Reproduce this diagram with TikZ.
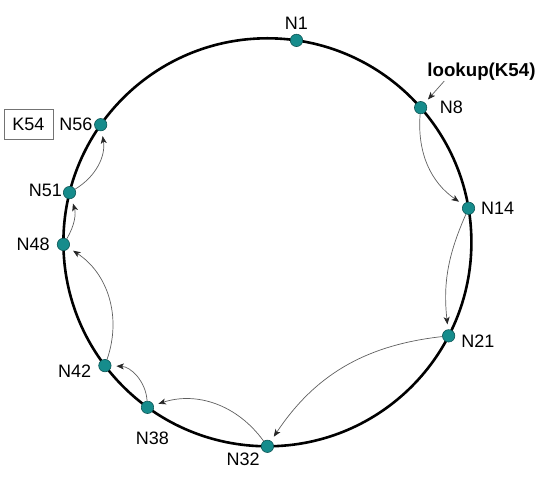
\documentclass[tikz,border=0pt]{standalone}
\usepackage{fontspec}
\setmainfont{Liberation Sans}
\usetikzlibrary{arrows.meta, calc, positioning}
\definecolor{peerfill}{RGB}{22,140,140}
\definecolor{peerline}{RGB}{12,85,85}
\definecolor{hopline}{RGB}{95,95,95}
\tikzstyle{ring} = [line width=2.6pt, draw=black]
\tikzstyle{peer} = [circle, fill=peerfill, draw=peerline, line width=0.6pt, minimum size=12.4pt, inner sep=0pt]
\tikzstyle{idtext} = [inner sep=0pt, font=\fontsize{18}{20}\selectfont]
\tikzstyle{keybox} = [rectangle, draw=black!55, line width=0.6pt, minimum width=49pt, minimum height=30pt, font=\fontsize{18}{20}\selectfont]
\tikzstyle{query} = [inner sep=0pt, font=\bfseries\fontsize{18.7}{20}\selectfont]
\tikzstyle{hop} = [draw=hopline, line width=0.7pt, -{Stealth[length=7.5pt, width=6pt, inset=2pt, color=black!85]}, shorten >=5pt]

\begin{document}
\begin{tikzpicture}[x=1pt, y=1pt, node distance = 10pt]
		\useasboundingbox (0,0) rectangle (560,478);
		\coordinate (Center) at (267.4,235.7);
		\draw [ring] (Center) circle [radius=204pt];
		
		% peers on the ring
		\node (N1) [peer] at ($(Center)+(81.8:204)$) {};
		\node (N8) [peer] at ($(Center)+(41.3:204)$) {};
		\node (N14) [peer] at ($(Center)+(9.6:204)$) {};
		\node (N21) [peer] at ($(Center)+(-27.3:204)$) {};
		\node (N32) [peer] at ($(Center)+(-90:204)$) {};
		\node (N38) [peer] at ($(Center)+(234:204)$) {};
		\node (N42) [peer] at ($(Center)+(217.2:204)$) {};
		\node (N48) [peer] at ($(Center)+(180.6:204)$) {};
		\node (N51) [peer] at ($(Center)+(165.9:204)$) {};
		\node (N56) [peer] at ($(Center)+(144.8:204)$) {};
		
		\node (N1Label) [idtext, above = 4pt of N1] {N1};
		\node (N8Label) [idtext, right = 12.5pt of N8] {N8};
		\node (N14Label) [idtext, right = 6pt of N14] {N14};
		\node (N21Label) [idtext, right = 6pt of N21, yshift=-5pt] {N21};
		\node (N32Label) [idtext, below left = 1.5pt and 3pt of N32] {N32};
		\node (N38Label) [idtext, below = 18pt of N38, xshift=5pt] {N38};
		\node (N42Label) [idtext, left = 7pt of N42, yshift=-6pt] {N42};
		\node (N48Label) [idtext, left = 7pt of N48] {N48};
		\node (N51Label) [idtext, left = 1pt of N51, yshift=2pt] {N51};
		\node (N56Label) [idtext, left = 1.5pt of N56] {N56};
		
		\node (Key) [keybox, left = 6pt of N56Label] {K54};
		\node (Lookup) [query, above right = 22pt and 2pt of N8] {lookup(K54)};
		
		% lookup path
		\draw [hop, shorten >=4.5pt] ([xshift=17pt]Lookup.south west) -- (N8);
		\draw [hop] (N8) to[bend right=30] (N14);
		\draw [hop] (N14) to[bend right=15] (N21);
		\draw [hop] (N21) to[bend right=25] (N32);
		\draw [hop] (N32) to[bend right=36] (N38);
		\draw [hop] (N38) to[bend right=42] (N42);
		\draw [hop] (N42) to[bend right=38] (N48);
		\draw [hop] (N48) to[bend right=24] (N51);
		\draw [hop] (N51) to[bend right=34] (N56);
\end{tikzpicture}
\end{document}
